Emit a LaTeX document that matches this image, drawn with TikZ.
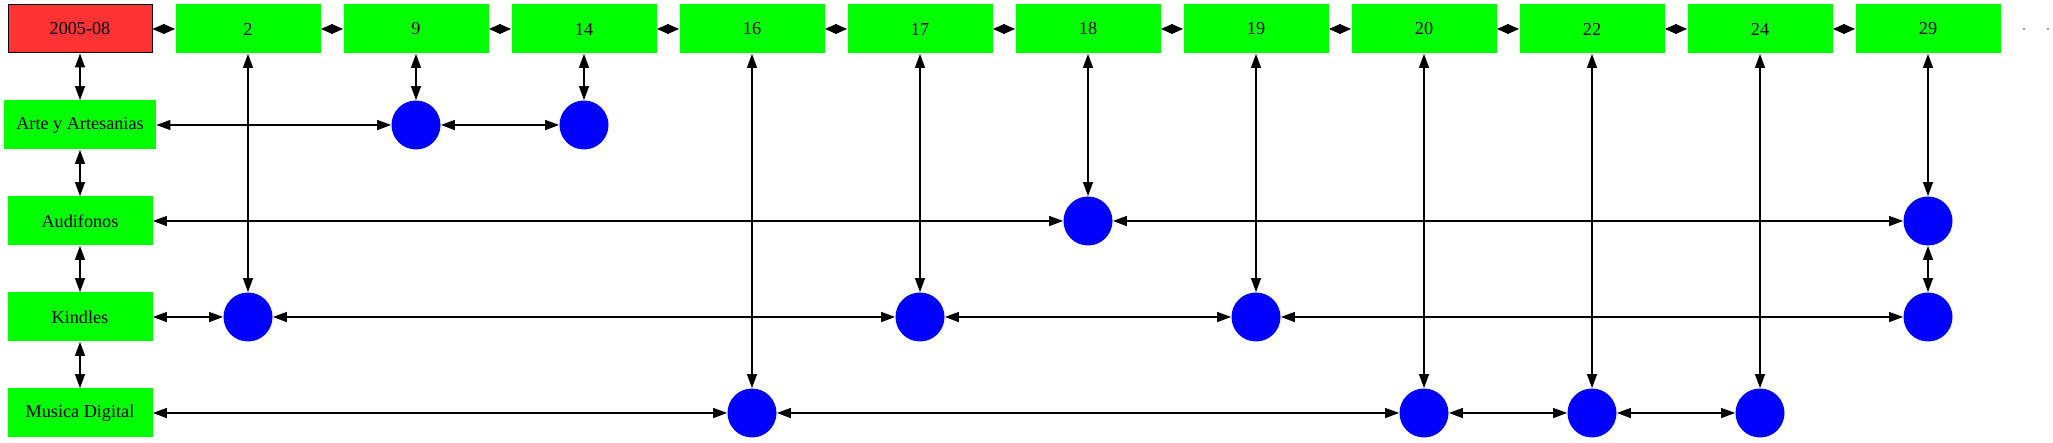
\documentclass[tikz,border=0pt]{standalone}
\usepackage{fontspec}
\setmainfont{Liberation Serif}
\usetikzlibrary{arrows.meta}
\definecolor{boxgreen}{RGB}{0, 255, 0}
\definecolor{yearred}{RGB}{255, 51, 51}
\definecolor{dotblue}{RGB}{0, 0, 255}
\tikzset{
  colbox/.style={
    fill=boxgreen,
    minimum width=72.5pt,
    minimum height=24.5pt,
    inner sep=1pt,
    font=\fontsize{9.1}{10}\selectfont
  },
  yearbox/.style={
    colbox,
    fill=yearred,
    draw=black,
    line width=0.5pt,
    minimum width=72pt,
    minimum height=24pt
  },
  dot/.style={
    circle,
    fill=dotblue,
    minimum size=24.5pt,
    inner sep=0pt
  },
  every edge/.style={
    draw,
    {Triangle[length=7pt,width=5pt]}-{Triangle[length=7pt,width=5pt]},
    line width=0.6pt,
    black
  },
  chain/.style={
    {Triangle[length=5.9pt,width=5pt]}-{Triangle[length=5.9pt,width=5pt]}
  }
}
\begin{document}
\begin{tikzpicture}[x=0.5pt, y=-0.5pt]
  \useasboundingbox (0,0) rectangle (2053,443);
  % year and columns
  \node[yearbox] (y0) at (80, 29) {2005-08};
  \node[colbox] (c2) at (248, 29) {2};
  \node[colbox] (c9) at (416, 29) {9};
  \node[colbox] (c14) at (584, 29) {14};
  \node[colbox] (c16) at (752, 29) {16};
  \node[colbox] (c17) at (920, 29) {17};
  \node[colbox] (c18) at (1088, 29) {18};
  \node[colbox] (c19) at (1256, 29) {19};
  \node[colbox] (c20) at (1424, 29) {20};
  \node[colbox] (c22) at (1592, 29) {22};
  \node[colbox] (c24) at (1760, 29) {24};
  \node[colbox] (c29) at (1928, 29) {29};
  \fill[gray] (2024, 29) circle (0.6pt) (2048, 29) circle (0.6pt);

  % rows
  \node[colbox, minimum width=76pt] (arte) at (80, 125) {Arte y Artesanias};
  \node[colbox] (aud) at (80, 221) {Audifonos};
  \node[colbox] (kin) at (80, 317) {Kindles};
  \node[colbox] (mus) at (80, 413) {Musica Digital};

  % entries
  \node[dot] (a9) at (416, 125) {};
  \node[dot] (a14) at (584, 125) {};
  \node[dot] (u18) at (1088, 221) {};
  \node[dot] (u29) at (1928, 221) {};
  \node[dot] (k2) at (248, 317) {};
  \node[dot] (k17) at (920, 317) {};
  \node[dot] (k19) at (1256, 317) {};
  \node[dot] (k29) at (1928, 317) {};
  \node[dot] (m16) at (752, 413) {};
  \node[dot] (m20) at (1424, 413) {};
  \node[dot] (m22) at (1592, 413) {};
  \node[dot] (m24) at (1760, 413) {};

  \path[every edge/.append style={chain}]
        (y0) edge (c2)  (c2) edge (c9)  (c9) edge (c14)  (c14) edge (c16)
        (c16) edge (c17)  (c17) edge (c18)  (c18) edge (c19)  (c19) edge (c20)
        (c20) edge (c22)  (c22) edge (c24)  (c24) edge (c29);
  \path (y0) edge (arte)  (arte) edge (aud)  (aud) edge (kin)  (kin) edge (mus);
  \path (c2) edge (k2)  (c9) edge (a9)  (c14) edge (a14)  (c16) edge (m16)
        (c17) edge (k17)  (c18) edge (u18)  (c19) edge (k19)  (c20) edge (m20)
        (c22) edge (m22)  (c24) edge (m24)  (c29) edge (u29)  (u29) edge (k29);
  \path (arte) edge (a9)  (a9) edge (a14)
        (aud) edge (u18)  (u18) edge (u29)
        (kin) edge (k2)  (k2) edge (k17)  (k17) edge (k19)  (k19) edge (k29)
        (mus) edge (m16)  (m16) edge (m20)  (m20) edge (m22)  (m22) edge (m24);
\end{tikzpicture}
\end{document}
